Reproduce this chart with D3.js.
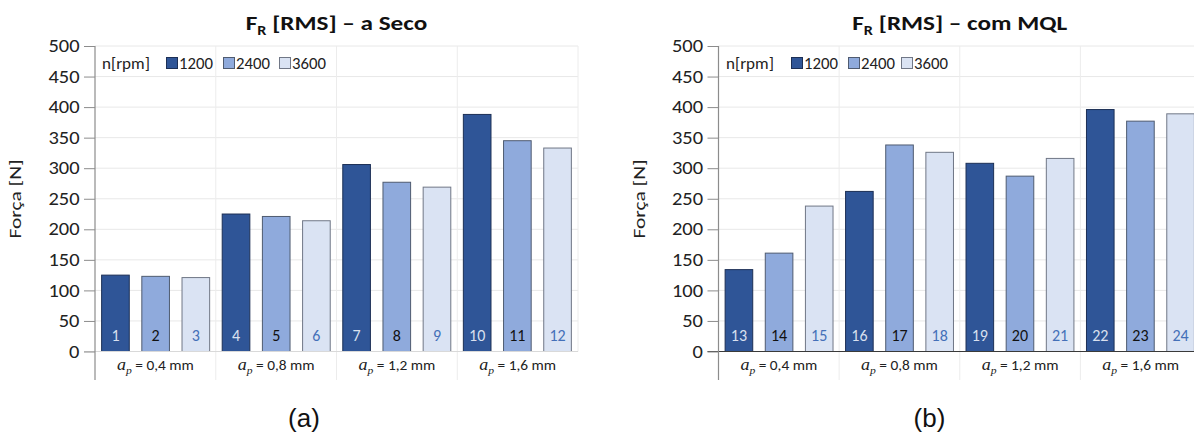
<!DOCTYPE html>
<html>
<head>
<meta charset="utf-8">
<script src="https://cdn.jsdelivr.net/npm/d3@7"></script>
<style>
  html, body { margin: 0; padding: 0; background: #fff; }
  svg { display: block; }
</style>
</head>
<body>
<svg id="chart" width="1194" height="434"></svg>
<script>
// Depth of cut groups (a_p in mm) and spindle speeds (rpm)
const depthLabels = ["0,4", "0,8", "1,2", "1,6"];
const speeds = ["1200", "2400", "3600"];
// RMS resultant force [N], ordered by depth then speed (tests 1–12 dry, 13–24 MQL)
const dryForce = [125, 123, 121, 225, 221, 214, 306, 277, 269, 388, 345, 333];
const mqlForce = [134, 161, 238, 262, 338, 326, 308, 287, 316, 396, 377, 389];
const yTicks = [0, 50, 100, 150, 200, 250, 300, 350, 400, 450, 500];

const fillColors = ["#2f5597", "#8faadc", "#dae3f3"];
const strokeColors = ["#1c2f55", "#4f5b70", "#707786"];
const idColors = ["#d9e0ef", "#111111", "#4470b8"];

const panels = [
  { sub: "R", rest: " [RMS] \u2013 a Seco", values: dryForce, firstId: 1,
    x0: 95, x1: 578, zeroColor: "#d9d9d9", caption: "(a)", captionX: 304,
    legendText: 102, legendSw: [166, 223, 279] },
  { sub: "R", rest: " [RMS] \u2013 com MQL", values: mqlForce, firstId: 13,
    x0: 718.5, x1: 1201, zeroColor: "#3a3a3a", caption: "(b)", captionX: 929.5,
    legendText: 726, legendSw: [791, 848, 901] }
];

const svg = d3.select("#chart");
const yTop = 46, yZero = 351.5, yBottom = 380;
const y = d3.scaleLinear().domain([0, 500]).range([yZero, yTop]);
const font = "Carlito, Calibri, 'Open Sans', sans-serif";

// place a text at (x, y) with a horizontal stretch factor
function placeText(sel, x, yy, sx) {
  return sel.attr("x", 0).attr("y", 0)
    .attr("transform", `translate(${x},${yy}) scale(${sx},1)`);
}

panels.forEach(p => {
  const g = svg.append("g");
  const groupX = d3.scaleBand().domain(depthLabels).range([p.x0, p.x1]).padding(0);
  const barX = d3.scaleBand()
    .domain(d3.range(p.values.length))
    .range([p.x0, p.x1])
    .paddingInner(0.3125)
    .paddingOuter(0.165);

  // horizontal grid
  g.append("g").selectAll("line").data(yTicks.filter(t => t > 0)).join("line")
    .attr("x1", p.x0).attr("x2", p.x1)
    .attr("y1", d => y(d)).attr("y2", d => y(d))
    .attr("stroke", "#e8e8e8").attr("stroke-width", 1);

  // vertical category dividers (and right border)
  const dividers = depthLabels.slice(1).map(d => groupX(d)).concat([p.x1]);
  g.append("g").selectAll("line").data(dividers).join("line")
    .attr("x1", d => d).attr("x2", d => d)
    .attr("y1", yTop).attr("y2", (d, i) => i === dividers.length - 1 ? yZero : yBottom)
    .attr("stroke", "#ececec").attr("stroke-width", 1);

  // bars
  g.append("g").selectAll("rect").data(p.values).join("rect")
    .attr("x", (d, i) => barX(i))
    .attr("y", d => y(d))
    .attr("width", barX.bandwidth())
    .attr("height", d => y(0) - y(d))
    .attr("fill", (d, i) => fillColors[i % 3])
    .attr("stroke", (d, i) => strokeColors[i % 3])
    .attr("stroke-width", 1);

  // test numbers inside bars
  g.append("g").selectAll("text").data(p.values).join("text")
    .attr("x", (d, i) => barX(i) + barX.bandwidth() / 2)
    .attr("y", 340.5)
    .attr("text-anchor", "middle")
    .attr("font-family", font).attr("font-size", 16)
    .attr("fill", (d, i) => idColors[i % 3])
    .text((d, i) => p.firstId + i);

  // zero line
  g.append("line")
    .attr("x1", p.x0 - 11).attr("x2", p.x1)
    .attr("y1", y(0)).attr("y2", y(0))
    .attr("stroke", p.zeroColor).attr("stroke-width", 1.2);

  // y axis
  const axis = g.append("g").attr("transform", `translate(${p.x0},0)`)
    .call(d3.axisLeft(y).tickValues(yTicks).tickSize(11).tickPadding(5));
  axis.select(".domain").remove();
  axis.selectAll(".tick line").attr("stroke", "#8c8c8c");
  axis.selectAll(".tick text")
    .attr("x", 0)
    .attr("transform", "translate(-15.5,0) scale(1.17,1)")
    .attr("font-family", font).attr("font-size", 17.5).attr("fill", "#222");
  g.append("line")
    .attr("x1", p.x0).attr("x2", p.x0)
    .attr("y1", yTop).attr("y2", yBottom)
    .attr("stroke", "#8c8c8c").attr("stroke-width", 1.2);

  // category labels
  const cat = g.append("g").selectAll("text").data(depthLabels).join("text")
    .attr("text-anchor", "middle")
    .attr("font-family", font).attr("font-size", 14.5).attr("fill", "#222")
    .each(function (d) {
      placeText(d3.select(this), groupX(d) + groupX.bandwidth() / 2, 369.5, 1.06);
    });
  cat.append("tspan").attr("font-family", "'Liberation Serif', serif").attr("font-style", "italic")
    .attr("font-size", 17).text("a");
  cat.append("tspan").attr("font-family", "'Liberation Serif', serif").attr("font-style", "italic")
    .attr("font-size", 11).attr("dy", 4).text("p");
  cat.append("tspan").attr("dy", -4).text(d => ` = ${d} mm`);

  // y axis title
  g.append("text")
    .attr("transform", `translate(${p.x0 - 74},199) scale(0.8,1) rotate(-90)`)
    .attr("text-anchor", "middle")
    .attr("font-family", font).attr("font-size", 21.5).attr("fill", "#222")
    .text("Força [N]");

  // chart title
  const title = g.append("text")
    .attr("text-anchor", "middle")
    .attr("font-family", font).attr("font-weight", "bold").attr("font-size", 21)
    .attr("fill", "#111");
  placeText(title, (p.x0 + p.x1) / 2, 30, 1.2);
  title.append("tspan").text("F");
  title.append("tspan").attr("font-size", 13.5).attr("dy", 5).text(p.sub);
  title.append("tspan").attr("dy", -5).text(p.rest);

  // legend
  placeText(g.append("text"), p.legendText, 68.5, 1.1)
    .attr("font-family", font).attr("font-size", 15.5).attr("fill", "#222")
    .text("n[rpm]");
  const leg = g.append("g").selectAll("g").data(speeds).join("g")
    .attr("transform", (d, i) => `translate(${p.legendSw[i]},0)`);
  leg.append("rect")
    .attr("x", 0.5).attr("y", 57.5).attr("width", 11).attr("height", 11)
    .attr("fill", (d, i) => fillColors[i])
    .attr("stroke", (d, i) => strokeColors[i]).attr("stroke-width", 1);
  leg.append("text")
    .attr("font-family", font).attr("font-size", 15.5).attr("fill", "#222")
    .attr("transform", "translate(13,68.5) scale(1.08,1)")
    .text(d => d);

  // panel caption
  g.append("text")
    .attr("x", p.captionX).attr("y", 427)
    .attr("text-anchor", "middle")
    .attr("font-family", "'Liberation Sans', Arial, sans-serif").attr("font-size", 26)
    .attr("fill", "#111")
    .text(p.caption);
});
</script>
</body>
</html>
